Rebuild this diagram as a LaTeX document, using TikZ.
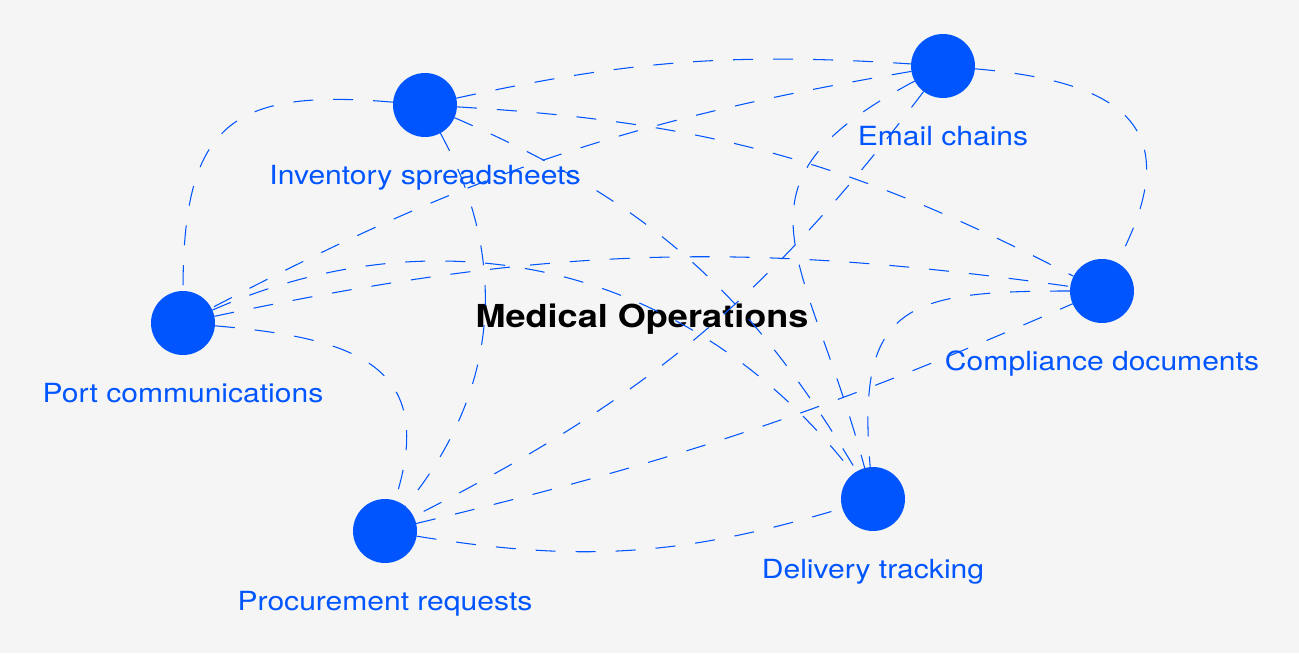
\documentclass[tikz,border=0pt]{standalone}
\usepackage{fontspec}
\setmainfont{TeX Gyre Heros}[FakeStretch=1.14]
\usetikzlibrary{positioning}
\definecolor{hubblue}{HTML}{0055FF}
\definecolor{paper}{HTML}{F5F5F5}

\begin{document}
\begin{tikzpicture}[x=0.02cm,y=0.02cm,
  hub/.style={circle,fill=hubblue,minimum size=1.28cm,inner sep=0pt,outer sep=0pt},
  lbl/.style={text=hubblue,font=\fontsize{15}{18}\selectfont,inner sep=0pt,text height=10.8pt,text depth=3pt},
  link/.style={draw=hubblue,line width=0.6pt,dash pattern=on 0.4cm off 0.4cm}]
\fill[paper] (0,0) rectangle (1299,653);
\useasboundingbox (0,0) rectangle (1299,653);

\node[hub] (port) at (183,330) {};
\node[hub] (inv) at (425,548) {};
\node[hub] (email) at (943,587) {};
\node[hub] (comp) at (1102,362) {};
\node[hub] (deliv) at (873,154) {};
\node[hub] (proc) at (385,122) {};

\node[lbl,below=0.56cm of port] (porttxt) {Port communications};
\node[lbl,below=0.56cm of inv] (invtxt) {Inventory spreadsheets};
\node[lbl,below=0.56cm of email] (emailtxt) {Email chains};
\node[lbl,below=0.56cm of comp] (comptxt) {Compliance documents};
\node[lbl,below=0.56cm of deliv] (delivtxt) {Delivery tracking};
\node[lbl,below=0.56cm of proc] (proctxt) {Procurement requests};

\node[font=\fontsize{18}{22}\selectfont\bfseries,anchor=base] (ops) at (642,325) {Medical Operations};

% links between the sources
\draw[link] (inv) to[out=175,in=90,looseness=1.5] (port);
\draw[link] (inv) to[bend left=8] (email);
\draw[link] (inv) to[bend left=12] (comp);
\draw[link] (inv) to[bend left=18] (deliv);
\draw[link] (inv) to[bend left=34] (proc);

\draw[link] (email) to[bend right=9] (port);
\draw[link] (email) to[bend left=13] (proc);
\draw[link] (email) to[out=208,in=105,looseness=1.47] (deliv);
\draw[link] (email) to[out=-5,in=62,looseness=1.62] (comp);

\draw[link] (port) to[bend left=10] (comp);
\draw[link] (port) to[bend left=38] (deliv);
\draw[link] (port) to[out=-5,in=72,looseness=1.45] (proc);

\draw[link] (comp) to[out=180,in=95,looseness=1.57] (deliv);
\draw[link] (proc) to[bend right=5] (comp);
\draw[link] (proc) to[bend right=13] (deliv);
\end{tikzpicture}
\end{document}
